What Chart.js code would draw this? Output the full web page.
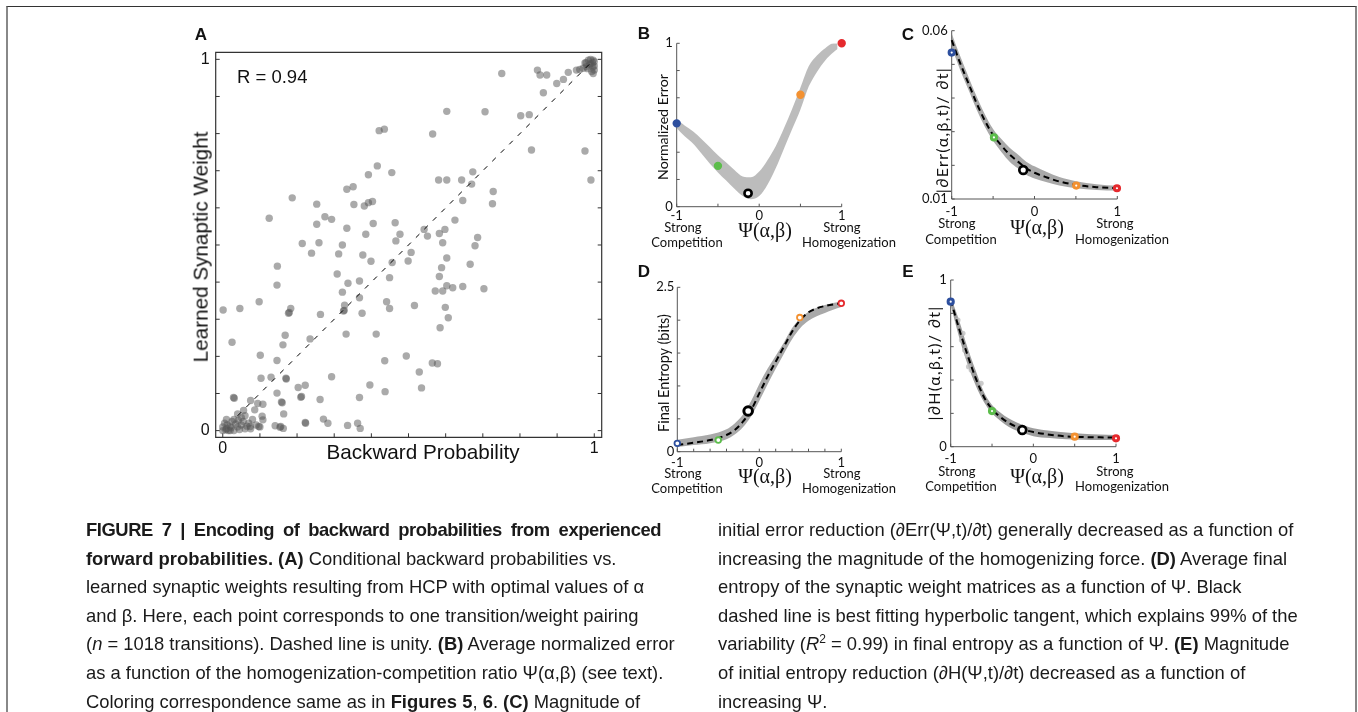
<!DOCTYPE html>
<html><head><meta charset="utf-8">
<script src="https://cdn.jsdelivr.net/npm/chart.js@4.4.1/dist/chart.umd.min.js"></script>
<style>
html,body{margin:0;padding:0;background:#fff;}
body{width:1358px;height:712px;position:relative;overflow:hidden;}
canvas{position:absolute;left:0;top:0;}
#frame{position:absolute;left:6px;top:6px;width:1347px;height:720px;border-top:1px solid #333;border-left:2px solid #888;border-right:2px solid #888;}
.t{position:absolute;white-space:nowrap;line-height:1;color:#111;transform:translate(-50%,-50%);}
.l{transform:translate(0,-50%);}
.rot{transform:translate(-50%,-50%) rotate(-90deg);}
.hel{font-family:"Liberation Sans",Arial,sans-serif;}
.myr{font-family:Lato,"Open Sans",sans-serif;}
.ser{font-family:"Liberation Serif","DejaVu Serif",serif;}
.let{font-family:"Liberation Sans",Arial,sans-serif;font-weight:bold;font-size:17px;}
.cap{position:absolute;white-space:nowrap;font-family:"Liberation Sans",Arial,sans-serif;font-size:18.4px;line-height:1;color:#1a1a1a;transform:translate(0,-50%);}
.cap b{font-weight:bold;}
</style></head><body>
<div id="frame"></div>
<canvas id="cA" width="1358" height="712"></canvas>
<canvas id="cB" width="1358" height="712"></canvas>
<canvas id="cC" width="1358" height="712"></canvas>
<canvas id="cD" width="1358" height="712"></canvas>
<canvas id="cE" width="1358" height="712"></canvas>
<div id="txt"></div>
<script>
// ---------------- DATA ----------------
// Panel A: backward probability (x) vs learned synaptic weight (y)
const aPoints = [
[0.751,0.962],[0.847,0.971],[0.854,0.958],[0.872,0.958],[0.899,0.935],[0.917,0.946],[0.930,0.965],[0.952,0.971],[0.863,0.910],
[0.603,0.860],[0.706,0.859],[0.802,0.848],[0.825,0.851],[0.831,0.756],[0.975,0.753],[0.991,0.675],
[0.421,0.808],[0.435,0.812],[0.565,0.799],[0.416,0.713],[0.392,0.689],[0.455,0.695],[0.334,0.650],[0.351,0.657],
[0.581,0.675],[0.603,0.675],[0.643,0.675],[0.673,0.697],[0.670,0.664],[0.728,0.644],[0.646,0.620],[0.726,0.611],
[0.187,0.627],[0.253,0.610],[0.353,0.609],[0.381,0.605],[0.392,0.614],[0.403,0.617],
[0.125,0.572],[0.253,0.556],[0.275,0.576],[0.293,0.569],[0.334,0.545],[0.405,0.558],[0.464,0.560],[0.385,0.529],[0.477,0.529],[0.466,0.511],[0.542,0.542],[0.551,0.524],[0.583,0.531],[0.598,0.542],[0.625,0.567],
[0.214,0.504],[0.259,0.506],[0.239,0.478],[0.322,0.500],[0.312,0.476],[0.377,0.473],[0.399,0.456],[0.456,0.453],[0.507,0.480],[0.499,0.457],[0.592,0.506],[0.686,0.520],[0.679,0.498],[0.603,0.465],[0.666,0.448],[0.589,0.439],
[0.147,0.443],[0.146,0.392],[0.308,0.422],[0.337,0.397],[0.368,0.403],[0.449,0.412],[0.583,0.415],[0.572,0.376],[0.592,0.376],[0.603,0.390],[0.619,0.385],[0.646,0.388],[0.703,0.382],
[0.322,0.373],[0.368,0.358],[0.098,0.347],[0.001,0.325],[0.046,0.329],[0.183,0.329],[0.177,0.316],[0.179,0.318],[0.263,0.313],[0.328,0.338],[0.325,0.322],[0.327,0.324],[0.375,0.316],[0.441,0.347],[0.449,0.329],[0.516,0.337],[0.599,0.332],[0.607,0.304],[0.585,0.277],
[0.025,0.238],[0.168,0.257],[0.162,0.231],[0.235,0.247],[0.332,0.260],[0.413,0.260],[0.101,0.203],[0.146,0.189],[0.436,0.188],[0.494,0.201],[0.564,0.182],[0.578,0.180],
[0.103,0.141],[0.130,0.144],[0.170,0.141],[0.171,0.139],[0.293,0.145],[0.203,0.116],[0.222,0.122],[0.210,0.090],[0.212,0.092],[0.262,0.084],[0.146,0.101],[0.158,0.077],[0.160,0.075],[0.164,0.045],[0.396,0.123],[0.437,0.105],[0.529,0.158],[0.535,0.115],[0.368,0.089],
[0.029,0.089],[0.031,0.087],[0.075,0.081],[0.094,0.073],[0.108,0.071],[0.086,0.056],[0.056,0.054],[0.106,0.039],[0.108,0.029],[0.222,0.022],[0.223,0.020],[0.271,0.031],[0.283,0.020],[0.336,0.014],[0.363,0.020],[0.370,0.006],[0.141,0.013],[0.154,0.009],[0.156,0.011],[0.163,0.006],[0.097,0.011],[0.074,0.011],
[0.000,0.010],[0.010,0.005],[0.020,0.012],[0.030,0.000],[0.040,0.010],[0.050,0.015],[0.060,0.005],[0.070,0.020],[0.005,0.020],[0.015,0.000],[0.025,0.025],[0.035,0.018],[0.045,0.003],[0.055,0.025],[0.065,0.012],[0.075,0.005],[0.080,0.030],[0.090,0.015],[0.100,0.010],[0.000,0.000],[0.010,0.030],[0.020,0.000],[0.030,0.030],[0.050,0.035],[0.060,0.040],[0.040,0.045],[0.012,0.015],[0.022,0.008],[0.008,0.002],[0.042,0.028],
[0.970,0.976],[0.978,0.991],[0.984,0.998],[0.990,1.000],[0.997,0.998],[1.000,0.994],[0.987,0.985],[0.996,0.980],[1.000,0.971],[0.993,0.967],[0.979,0.980],[1.000,0.982],[0.997,0.962],[0.961,0.973],[0.982,0.975],[0.990,0.988],[0.975,0.990],[0.995,0.990]
];
const aUnity = [[0.04,0.04],[1,1]];
const aRLabel = "R = 0.94";

// Marker values (x = Psi) for the five highlighted settings: blue, green, black(optimal), orange, red
const bMarkers = [[-1,0.51],[-0.5,0.25],[-0.135,0.082],[0.5,0.685],[1,1]];
const cMarkers = [[-1,0.0535],[-0.49,0.0283],[-0.136,0.0186],[0.504,0.0140],[0.996,0.0132]];
const dMarkers = [[-1,0.127],[-0.5,0.177],[-0.136,0.619],[0.494,2.04],[1,2.257]];
const eMarkers = [[-1,0.87],[-0.5,0.214],[-0.134,0.10],[0.5,0.06],[1,0.05]];

// Panel B cloud envelope (normalized error)
const bX    = [-1,-0.9,-0.8,-0.7,-0.6,-0.5,-0.4,-0.3,-0.2,-0.1,0,0.1,0.2,0.3,0.4,0.5,0.6,0.7,0.8,0.9,0.95];
const bLow  = [0.48,0.43,0.385,0.325,0.265,0.21,0.16,0.11,0.065,0.045,0.065,0.135,0.235,0.355,0.475,0.595,0.735,0.825,0.895,0.945,0.965];
const bHigh = [0.535,0.495,0.46,0.415,0.365,0.315,0.27,0.225,0.185,0.18,0.215,0.285,0.37,0.48,0.6,0.73,0.86,0.925,0.97,1.0,1.0];

// Panel C: |dErr/dt| fit and cloud
const cX    = [-1,-0.9,-0.8,-0.7,-0.6,-0.5,-0.4,-0.3,-0.2,-0.1,0,0.15,0.3,0.5,0.75,1];
const cFit  = [0.0572,0.0505,0.0445,0.0385,0.0333,0.0290,0.0259,0.0232,0.0211,0.0191,0.0178,0.0164,0.0152,0.0142,0.0135,0.0132];
const cLow  = [0.0550,0.0485,0.0426,0.0366,0.0315,0.0273,0.0240,0.0211,0.0191,0.0172,0.0161,0.0150,0.0140,0.0132,0.0127,0.0125];
const cHigh = [0.0592,0.0526,0.0465,0.0405,0.0352,0.0308,0.0278,0.0252,0.0232,0.0211,0.0197,0.0180,0.0165,0.0153,0.0144,0.0139];

// Panel D: final entropy fit and cloud
const dX    = [-1,-0.8,-0.6,-0.4,-0.3,-0.2,-0.1,0,0.1,0.2,0.3,0.4,0.5,0.6,0.7,0.8,0.9,1];
const dFit  = [0.101,0.137,0.177,0.254,0.33,0.456,0.634,0.887,1.141,1.369,1.597,1.826,2.003,2.12,2.18,2.216,2.24,2.257];
const dLow  = [0.07,0.10,0.13,0.19,0.26,0.37,0.54,0.77,1.02,1.26,1.49,1.71,1.88,1.99,2.06,2.11,2.16,2.20];
const dHigh = [0.18,0.22,0.26,0.34,0.43,0.56,0.77,1.03,1.26,1.46,1.66,1.88,2.03,2.13,2.19,2.23,2.26,2.28];

// Panel E: |dH/dt| fit and cloud
const eX    = [-1,-0.9,-0.8,-0.7,-0.6,-0.5,-0.4,-0.3,-0.2,-0.1,0,0.2,0.4,0.6,0.8,1];
const eFit  = [0.88,0.71,0.555,0.415,0.30,0.225,0.178,0.143,0.118,0.100,0.088,0.072,0.062,0.058,0.056,0.055];
const eLow  = [0.85,0.66,0.50,0.37,0.27,0.20,0.155,0.12,0.095,0.078,0.063,0.052,0.045,0.042,0.040,0.040];
const eHigh = [0.90,0.76,0.60,0.46,0.33,0.25,0.205,0.17,0.145,0.125,0.11,0.095,0.085,0.078,0.073,0.070];
const eStray = [[-0.912,0.76],[-0.852,0.68],[-0.832,0.58],[-0.784,0.48],[-0.752,0.46],[-0.632,0.38],[-0.87,0.64],[-0.80,0.55]];

// Tick labels
const aTickVals = [0,1], aTickText = ['0','1'];
const psiTickVals = [-1,0,1], psiTickText = ['-1','0','1'];
const bYVals = [0,1], bYText = ['0','1'];
const cYVals = [0.01,0.06], cYText = ['0.01','0.06'];
const dYVals = [0,2.5], dYText = ['0','2.5'];
const eYVals = [0,1], eYText = ['0','1'];

// ---------------- STYLE / LAYOUT ----------------
const W = 1358, H = 712;
const markerColors = ['#2d4f9e','#5cbd4b','#111111','#f39131','#e52a2e'];
const axisCfg = {};

const axisPlugin = {
  id: 'axisDraw',
  beforeDatasetsDraw(chart) {
    const o = axisCfg[chart.canvas.id];
    const ctx = chart.ctx, xs = chart.scales.x, ys = chart.scales.y, ca = chart.chartArea;
    ctx.save();
    ctx.strokeStyle = o.color; ctx.lineWidth = o.lw;
    ctx.beginPath();
    if (o.box) {
      ctx.rect(ca.left, ca.top, ca.right - ca.left, ca.bottom - ca.top);
    } else {
      ctx.moveTo(ca.left, ys.getPixelForValue(o.yEnd));
      ctx.lineTo(ca.left, ca.bottom);
      ctx.lineTo(xs.getPixelForValue(o.xEnd), ca.bottom);
    }
    ctx.stroke();
    ctx.beginPath();
    ctx.lineWidth = 1;
    (o.yTicks || []).forEach(v => {
      const p = ys.getPixelForValue(v);
      ctx.moveTo(ca.left, p); ctx.lineTo(ca.left + o.tick, p);
      if (o.box) { ctx.moveTo(ca.right, p); ctx.lineTo(ca.right - o.tick, p); }
    });
    (o.xTicks || []).forEach(v => {
      const p = xs.getPixelForValue(v);
      ctx.moveTo(p, ca.bottom); ctx.lineTo(p, ca.bottom - o.tick);
    });
    ctx.stroke();
    ctx.fillStyle = '#111'; ctx.font = o.font; ctx.textBaseline = 'middle';
    ctx.textAlign = 'right';
    o.yVals.forEach((v, i) => ctx.fillText(o.yText[i], ca.left - o.yGap, ys.getPixelForValue(v)));
    ctx.textAlign = 'center';
    o.xVals.forEach((v, i) => ctx.fillText(o.xText[i], xs.getPixelForValue(v), ca.bottom + o.xGap));
    ctx.restore();
  }
};

function range(a, b, s) { const r = []; for (let v = a; v <= b + 1e-9; v += s) r.push(+v.toFixed(6)); return r; }
function pts(xs, ys) { return xs.map((x, i) => ({x: x, y: ys[i]})); }
function pairPts(p) { return p.map(q => ({x: q[0], y: q[1]})); }

function makeChart(id, area, xr, yr, datasets) {
  return new Chart(document.getElementById(id), {
    type: 'line',
    data: {datasets: datasets},
    options: {
      responsive: false, animation: false, devicePixelRatio: 1,
      layout: {padding: {left: area[0], top: area[1], right: W - area[2], bottom: H - area[3]}},
      scales: {
        x: {type: 'linear', min: xr[0], max: xr[1], display: false},
        y: {type: 'linear', min: yr[0], max: yr[1], display: false}
      },
      plugins: {legend: {display: false}, tooltip: {enabled: false}},
      events: []
    },
    plugins: [axisPlugin]
  });
}

function bandSets(x, lo, hi, color) {
  return [
    {data: pts(x, lo), borderWidth: 0, pointRadius: 0, fill: false, cubicInterpolationMode: 'monotone', order: 5, borderColor: 'rgba(0,0,0,0)', clip: false},
    {data: pts(x, hi), borderWidth: 0, pointRadius: 0, fill: '-1', backgroundColor: color, cubicInterpolationMode: 'monotone', order: 4, borderColor: 'rgba(0,0,0,0)', clip: false}
  ];
}
function fitSet(x, y) {
  return {data: pts(x, y), borderColor: '#000', borderWidth: 2, borderDash: [6, 4], pointRadius: 0, fill: false, cubicInterpolationMode: 'monotone', order: 2, clip: false};
}
function markerSets(m, r, bw, blackR, blackBw, colored) {
  const col = m.filter((_, i) => i !== 2), colC = markerColors.filter((_, i) => i !== 2);
  return [
    {data: pairPts(col), showLine: false, pointRadius: r, pointBorderWidth: bw, pointBorderColor: colC,
     pointBackgroundColor: colored ? colC : '#fff', order: 0, clip: false},
    {data: pairPts([m[2]]), showLine: false, pointRadius: blackR, pointBorderWidth: blackBw, pointBorderColor: '#000',
     pointBackgroundColor: '#fff', order: 0, clip: false}
  ];
}

// Panel A
axisCfg.cA = {box: true, color: '#333', lw: 1.2, tick: 4, yTicks: range(0, 1, 0.1), xTicks: range(0, 1, 0.1),
  font: '16px "Liberation Sans", Arial, sans-serif', yVals: aTickVals, yText: aTickText, yGap: 6,
  xVals: aTickVals, xText: aTickText, xGap: 11};
makeChart('cA', [215.7, 52.3, 601.7, 437.3], [-0.019, 1.02], [-0.018, 1.019], [
  {data: pairPts(aUnity), borderColor: '#000', borderWidth: 1, borderDash: [5, 7], pointRadius: 0, fill: false, order: 0, clip: false},
  {data: pairPts(aPoints), showLine: false, pointRadius: 3.7, pointBorderWidth: 0, pointBackgroundColor: 'rgba(85,85,85,0.5)', order: 1, clip: false}
]);

// Panel B
const psiFont = '13px Lato, "Open Sans", sans-serif';
axisCfg.cB = {box: false, color: '#555', lw: 1, tick: 3, yTicks: range(0, 1, 1/6), xTicks: range(-1, 1, 0.5), yEnd: 1, xEnd: 1,
  font: psiFont, yVals: bYVals, yText: bYText, yGap: 4, xVals: psiTickVals, xText: psiTickText, xGap: 9};
makeChart('cB', [676.7, 43.3, 841.7, 206.7], [-1, 1], [0, 1], [
  ...markerSets(bMarkers, 2.6, 3.2, 3.6, 2.6, true),
  ...bandSets(bX, bLow, bHigh, 'rgba(160,160,160,0.7)')
]);

// Panel C
axisCfg.cC = {box: false, color: '#555', lw: 1, tick: 3, yTicks: range(0.01, 0.06, 0.01), xTicks: range(-1, 1, 0.5), yEnd: 0.06, xEnd: 1,
  font: psiFont, yVals: cYVals, yText: cYText, yGap: 4, xVals: psiTickVals, xText: psiTickText, xGap: 13};
makeChart('cC', [951.7, 30.7, 1117.3, 199], [-1, 1], [0.01, 0.06], [
  ...markerSets(cMarkers, 2.6, 3, 3.9, 2.7, false),
  fitSet(cX, cFit),
  ...bandSets(cX, cLow, cHigh, 'rgba(140,140,140,0.75)')
]);

// Panel D
axisCfg.cD = {box: false, color: '#555', lw: 1, tick: 3, yTicks: range(0, 2.5, 0.5), xTicks: range(-1, 1, 0.2), yEnd: 2.5, xEnd: 1,
  font: psiFont, yVals: dYVals, yText: dYText, yGap: 3, xVals: psiTickVals, xText: psiTickText, xGap: 11};
makeChart('cD', [677.3, 287.3, 841.3, 451.7], [-1, 1], [0, 2.5], [
  ...markerSets(dMarkers, 2.8, 1.8, 4.3, 3, false),
  fitSet(dX, dFit),
  ...bandSets(dX, dLow, dHigh, 'rgba(140,140,140,0.75)')
]);

// Panel E
axisCfg.cE = {box: false, color: '#555', lw: 1, tick: 3, yTicks: range(0, 1, 0.2), xTicks: range(-1, 1, 0.5), yEnd: 1, xEnd: 1,
  font: psiFont, yVals: eYVals, yText: eYText, yGap: 4, xVals: psiTickVals, xText: psiTickText, xGap: 12.5};
makeChart('cE', [950.7, 280, 1116, 446.7], [-1, 1], [0, 1], [
  ...markerSets(eMarkers, 2.6, 3, 3.9, 2.7, false),
  fitSet(eX, eFit),
  {data: pairPts(eStray), showLine: false, pointRadius: 2.6, pointBorderWidth: 0, pointBackgroundColor: 'rgba(190,190,190,0.8)', order: 3, clip: false},
  ...bandSets(eX, eLow, eHigh, 'rgba(130,130,130,0.78)')
]);

// ---------------- TEXT ----------------
const T = document.getElementById('txt');
function lab(html, x, y, cls, size, ls) {
  const d = document.createElement('div');
  d.className = 't ' + cls; d.style.left = x + 'px'; d.style.top = y + 'px';
  if (size) d.style.fontSize = size + 'px';
  if (ls) d.style.letterSpacing = ls + 'px';
  d.innerHTML = html; T.appendChild(d); return d;
}
lab('A', 201, 34, 'let');
lab(aRLabel, 237, 77, 'hel l', 18.5);
lab('Backward Probability', 423, 452, 'hel', 20.7);
lab('Learned Synaptic Weight', 201, 247, 'hel rot', 20.7);

const panelText = [
  {L: 'B', lx: 644, ly: 33, ytitle: 'Normalized Error', tx: 663, ty: 127, ts: 14.2, ls: 0, sy: 227, cy: 242, x0: 683, x1: 842, psi: [765, 230]},
  {L: 'C', lx: 908, ly: 34, ytitle: '|&part;Err(&alpha;,&beta;,t)/ &part;t|', tx: 942, ty: 130, ts: 16, ls: 1.3, sy: 223, cy: 239, x0: 957, x1: 1115, psi: [1037, 227]},
  {L: 'D', lx: 644, ly: 271, ytitle: 'Final Entropy (bits)', tx: 664, ty: 373, ts: 14.5, ls: 0, sy: 473, cy: 488, x0: 683, x1: 842, psi: [765, 476]},
  {L: 'E', lx: 908, ly: 271, ytitle: '|&part;H(&alpha;,&beta;,t)/ &part;t|', tx: 934, ty: 363, ts: 16, ls: 1.3, sy: 471, cy: 486, x0: 957, x1: 1115, psi: [1037, 476]}
];
panelText.forEach(p => {
  lab(p.L, p.lx, p.ly, 'let');
  lab(p.ytitle, p.tx, p.ty, 'myr rot', p.ts, p.ls);
  lab('Strong', p.x0, p.sy, 'myr', 13);
  lab('Competition', p.x0 + 4, p.cy, 'myr', 13);
  lab('Strong', p.x1, p.sy, 'myr', 13);
  lab('Homogenization', p.x1 + 7, p.cy, 'myr', 13);
  lab('&Psi;(&alpha;,&beta;)', p.psi[0], p.psi[1], 'ser', 20);
});

const capLeft = [
  '<b style="letter-spacing:-0.45px">FIGURE 7 | Encoding of backward probabilities from experienced</b>',
  '<b>forward probabilities. (A)</b> Conditional backward probabilities vs.',
  'learned synaptic weights resulting from HCP with optimal values of &alpha;',
  'and &beta;. Here, each point corresponds to one transition/weight pairing',
  '(<i>n</i> = 1018 transitions). Dashed line is unity. <b>(B)</b> Average normalized error',
  'as a function of the homogenization-competition ratio &Psi;(&alpha;,&beta;) (see text).',
  'Coloring correspondence same as in <b>Figures 5</b>, <b>6</b>. <b>(C)</b> Magnitude of'
];
const capRight = [
  'initial error reduction (&part;Err(&Psi;,t)/&part;t) generally decreased as a function of',
  'increasing the magnitude of the homogenizing force. <b>(D)</b> Average final',
  'entropy of the synaptic weight matrices as a function of &Psi;. Black',
  'dashed line is best fitting hyperbolic tangent, which explains 99% of the',
  'variability (<i>R</i><sup style="font-size:12px;line-height:0">2</sup> = 0.99) in final entropy as a function of &Psi;. <b>(E)</b> Magnitude',
  'of initial entropy reduction (&part;H(&Psi;,t)/&part;t) decreased as a function of',
  'increasing &Psi;.'
];
function capLine(html, x, y, w) {
  const d = document.createElement('div');
  d.className = 'cap'; d.style.left = x + 'px'; d.style.top = y + 'px';
  if (w) { d.style.width = w + 'px'; d.style.textAlign = 'justify'; d.style.textAlignLast = 'justify'; d.style.whiteSpace = 'normal'; }
  d.innerHTML = html; T.appendChild(d);
}
capLeft.forEach((s, i) => capLine(s, 86, 530 + i * 28.6, i === 0 ? 575 : 0));
capRight.forEach((s, i) => capLine(s, 718, 530 + i * 28.6, 0));
</script>
</body></html>
